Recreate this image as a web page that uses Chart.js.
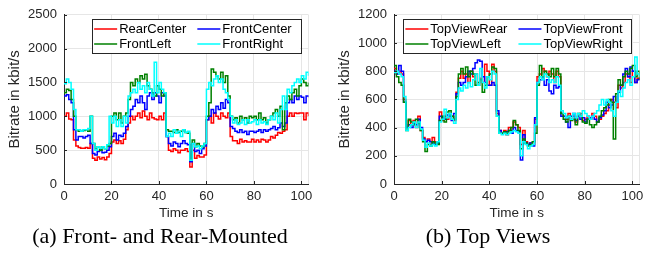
<!DOCTYPE html>
<html>
<head>
<meta charset="utf-8">
<script src="https://cdn.jsdelivr.net/npm/chart.js@4.4.1/dist/chart.umd.min.js"></script>
<style>
  body { margin: 0; background: #fff; width: 651px; height: 254px; position: relative; overflow: hidden; }
  .panel { position: absolute; top: 0; height: 225px; }
  .cap { position: absolute; top: 223px; font-family: "Liberation Serif", "Times New Roman", serif; font-size: 22px; color: #000; text-align: center; white-space: nowrap; }
</style>
</head>
<body>
<div class="panel" style="left:0;width:320px"><canvas id="chartA"></canvas></div>
<div class="panel" style="left:330px;width:321px"><canvas id="chartB"></canvas></div>
<div class="cap" style="left:0;width:320px">(a) Front- and Rear-Mounted</div>
<div class="cap" style="left:330px;width:316px">(b) Top Views</div>

<script>
// one sample per second, 0 .. 103 s
const seconds = Array.from({ length: 104 }, (_, i) => i);
const xTicks = [0, 20, 40, 60, 80, 100];

const rearCenter = [
  1000, 1050, 960, 950, 650, 560, 540, 530, 530, 540, 530, 600, 380, 350, 400, 370, 390, 360, 400, 450,
  620, 650, 600, 640, 600, 660, 800, 900, 1000, 950, 1000, 1050, 980, 1080, 1000, 950, 1050, 980, 960, 950,
  1000, 950, 1050, 700, 500, 480, 520, 500, 460, 500, 500, 520, 480, 250, 500, 380, 420, 400, 400, 430,
  950, 1000, 900, 1050, 1000, 960, 1050, 1000, 980, 1050, 700, 640, 640, 600, 660, 620, 640, 620, 620, 660,
  620, 650, 620, 660, 650, 620, 650, 700, 680, 720, 760, 750, 780, 800, 1000, 1050, 1000, 1050, 1040, 1050,
  1050, 950, 1050, 1000
];
const frontCenter = [
  1300, 1320, 1250, 1200, 800, 650, 700, 700, 680, 700, 720, 600, 450, 430, 480, 500, 460, 470, 500, 550,
  700, 750, 650, 720, 700, 750, 850, 1000, 1100, 1150, 1250, 1200, 1300, 1200, 1100, 1300, 1350, 1250, 1350, 1300,
  1200, 1350, 1300, 700, 600, 560, 620, 600, 550, 600, 640, 600, 580, 330, 600, 480, 500, 450, 520, 560,
  950, 1000, 1100, 1050, 1150, 1100, 1200, 1120, 1250, 1200, 850, 820, 780, 760, 800, 760, 780, 730, 780, 780,
  760, 780, 800, 760, 800, 780, 800, 820, 850, 800, 830, 900, 850, 900, 1200, 1250, 1200, 1300, 1250, 1300,
  1280, 1200, 1300, 1280
];
const frontLeft = [
  1350, 1400, 1380, 1250, 1000, 800, 780, 780, 790, 800, 780, 1000, 600, 520, 550, 500, 550, 520, 560, 600,
  1000, 1050, 950, 1050, 900, 1000, 1050, 1250, 1500, 1450, 1550, 1500, 1600, 1550, 1620, 1450, 1400, 1350, 1300, 1450,
  1400, 1300, 1350, 800, 780, 780, 760, 800, 760, 780, 800, 760, 750, 350, 650, 550, 600, 560, 550, 600,
  1000, 1200, 1700, 1650, 1600, 1550, 1650, 1500, 1600, 1300, 1000, 950, 980, 900, 1000, 950, 980, 900, 1000, 980,
  1000, 950, 1050, 950, 980, 900, 950, 1000, 1050, 1100, 1000, 1150, 800, 1200, 1300, 1250, 1350, 1400, 1300, 1450,
  1550, 1500, 1450, 1500
];
const frontRight = [
  1480, 1550, 1500, 1400, 1100, 800, 800, 780, 800, 800, 820, 1000, 600, 500, 550, 530, 550, 520, 580, 1000,
  900, 1000, 850, 950, 850, 1000, 900, 1300, 1350, 1400, 1350, 1500, 1400, 1450, 1350, 1500, 1400, 1300, 1800, 1350,
  1500, 1400, 1350, 700, 750, 700, 800, 750, 780, 700, 800, 760, 780, 350, 600, 550, 560, 520, 560, 600,
  1400, 1500, 1450, 1550, 1600, 1500, 1550, 1400, 1350, 1250, 1000, 900, 950, 880, 900, 950, 880, 950, 900, 920,
  950, 880, 950, 900, 920, 880, 950, 1000, 950, 1050, 900, 1100, 1300, 1100, 1400, 1350, 1450, 1500, 1550, 1500,
  1600, 1550, 1650, 1600
];

const topViewRear = [
  820, 780, 800, 780, 600, 400, 450, 420, 450, 400, 480, 380, 330, 300, 320, 280, 330, 300, 300, 510,
  450, 480, 460, 500, 480, 450, 650, 750, 800, 750, 780, 720, 800, 760, 780, 700, 750, 720, 850, 800,
  700, 850, 800, 500, 380, 360, 380, 350, 400, 380, 440, 420, 400, 280, 380, 300, 280, 290, 280, 460,
  760, 780, 820, 800, 760, 800, 780, 720, 800, 760, 500, 480, 460, 500, 460, 480, 440, 480, 500, 450,
  460, 480, 460, 500, 480, 440, 460, 480, 500, 520, 560, 600, 580, 540, 700, 680, 720, 780, 760, 720,
  800, 720, 750, 740
];
const topViewFront = [
  800, 780, 840, 800, 580, 400, 420, 400, 430, 420, 460, 400, 320, 300, 310, 300, 290, 280, 290, 480,
  470, 460, 490, 480, 450, 500, 640, 720, 700, 720, 760, 800, 780, 820, 860, 880, 870, 760, 720, 700,
  700, 720, 700, 520, 380, 360, 360, 370, 380, 360, 400, 380, 370, 170, 350, 290, 280, 290, 270, 470,
  720, 740, 760, 700, 740, 660, 640, 700, 680, 690, 480, 480, 440, 400, 480, 500, 450, 480, 460, 470,
  440, 460, 470, 480, 460, 440, 470, 490, 520, 580, 540, 560, 620, 580, 650, 700, 780, 820, 760, 830,
  800, 720, 740, 750
];
const topViewLeft = [
  840, 760, 720, 700, 580, 380, 460, 440, 420, 460, 430, 380, 300, 230, 280, 270, 300, 290, 280, 450,
  480, 440, 510, 520, 480, 460, 620, 780, 820, 780, 830, 760, 800, 780, 700, 720, 740, 650, 700, 760,
  780, 830, 820, 480, 360, 360, 370, 360, 380, 400, 450, 420, 380, 250, 320, 290, 270, 280, 300, 360,
  700, 840, 760, 800, 780, 760, 820, 760, 820, 780, 500, 460, 440, 480, 450, 460, 420, 500, 480, 440,
  430, 460, 420, 400, 420, 440, 480, 520, 540, 560, 600, 580, 320, 640, 740, 700, 760, 800, 780, 820,
  840, 760, 800, 740
];
const topViewRight = [
  790, 800, 780, 760, 620, 380, 400, 420, 440, 400, 440, 390, 310, 260, 290, 270, 280, 270, 300, 440,
  460, 530, 470, 500, 460, 430, 600, 680, 660, 700, 680, 720, 690, 740, 780, 700, 820, 720, 680, 760,
  740, 800, 780, 480, 360, 350, 360, 350, 360, 370, 380, 370, 360, 200, 300, 280, 250, 270, 280, 420,
  720, 760, 740, 780, 760, 720, 740, 720, 760, 700, 520, 500, 470, 480, 460, 500, 470, 500, 480, 520,
  500, 480, 460, 480, 500, 520, 560, 600, 560, 600, 580, 520, 480, 580, 660, 620, 680, 720, 740, 700,
  760, 900, 780, 760
];

const colors = ['#ff0000', '#0000ff', '#008000', '#00ffff'];
const FONT = '"Liberation Sans", Arial, sans-serif';
const INK = '#262626';

// small inward tick marks like matlab
const inTicks = {
  id: 'inTicks',
  afterDatasetsDraw(chart) {
    const { ctx, chartArea: a, scales: { x, y } } = chart;
    ctx.save();
    ctx.strokeStyle = INK;
    ctx.lineWidth = 1;
    ctx.beginPath();
    xTicks.forEach(v => {
      const px = Math.round(x.getPixelForValue(v)) + 0.5;
      ctx.moveTo(px, a.bottom);
      ctx.lineTo(px, a.bottom - 3);
    });
    y.ticks.forEach(t => {
      const py = Math.round(y.getPixelForValue(t.value)) + 0.5;
      ctx.moveTo(a.left, py);
      ctx.lineTo(a.left + 3, py);
    });
    ctx.stroke();
    ctx.restore();
  }
};

// boxed 2x2 legend in the top right corner of the plot
const boxLegend = {
  id: 'boxLegend',
  afterDraw(chart) {
    const { ctx, chartArea: a } = chart;
    const sets = chart.data.datasets;
    ctx.save();
    ctx.font = '13px ' + FONT;
    const w = sets.map(d => ctx.measureText(d.label).width);
    const col1 = Math.max(w[0], w[2]), col2 = Math.max(w[1], w[3]);
    const lineLen = 23;
    const boxW = 2.5 + lineLen + 2 + col1 + 11 + lineLen + 2 + col2 + 8.5;
    const boxH = 34;
    const right = a.right - 8.3;
    const left = right - boxW;
    const top = 19;
    ctx.fillStyle = '#fff';
    ctx.fillRect(left, top, boxW, boxH);
    ctx.strokeStyle = INK;
    ctx.lineWidth = 1;
    ctx.strokeRect(Math.round(left) + 0.5, top + 0.5, Math.round(boxW), boxH);
    const colX = [left + 2.5, left + 2.5 + lineLen + 2 + col1 + 11];
    const rowY = [top + 10, top + 25];
    ctx.textBaseline = 'middle';
    sets.forEach((d, i) => {
      const cx = colX[i % 2], cy = rowY[Math.floor(i / 2)];
      ctx.strokeStyle = d.borderColor;
      ctx.lineWidth = 1.5;
      ctx.beginPath();
      ctx.moveTo(cx, cy);
      ctx.lineTo(cx + lineLen, cy);
      ctx.stroke();
      ctx.fillStyle = '#000';
      ctx.fillText(d.label, cx + lineLen + 2, cy + 0.5);
    });
    ctx.restore();
  }
};

function makeChart(id, names, series, yMax, yStep) {
  return new Chart(document.getElementById(id), {
    type: 'line',
    data: {
      datasets: series.map((s, i) => ({
        label: names[i],
        data: s.map((v, k) => ({ x: seconds[k], y: v })),
        borderColor: colors[i],
        backgroundColor: colors[i],
        borderWidth: 1.5,
        stepped: true,
        pointRadius: 0,
        order: series.length - i
      }))
    },
    options: {
      responsive: true,
      maintainAspectRatio: false,
      animation: false,
      events: [],
      layout: { padding: { top: 13, right: 11.5, left: 0, bottom: 0 } },
      plugins: { legend: { display: false }, tooltip: { enabled: false } },
      scales: {
        x: {
          type: 'linear',
          min: 0,
          max: 103,
          afterBuildTicks: s => { s.ticks = xTicks.concat([103]).map(v => ({ value: v })); },
          afterFit: s => { s.height = 41; },
          grid: { color: '#e6e6e6', drawTicks: false },
          border: { display: true, color: INK, width: 1 },
          ticks: {
            padding: 5,
            color: INK,
            autoSkip: false,
            font: { family: FONT, size: 13 },
            maxRotation: 0,
            callback: v => (xTicks.includes(v) ? String(v) : '')
          },
          title: {
            display: true,
            text: 'Time in s',
            color: INK,
            font: { family: FONT, size: 13.5 },
            padding: { top: 0, bottom: 4 }
          }
        },
        y: {
          min: 0,
          max: yMax,
          afterFit: s => { s.width = 64; },
          grid: { color: '#e6e6e6', drawTicks: false },
          border: { display: true, color: INK, width: 1 },
          ticks: {
            stepSize: yStep,
            padding: 7,
            color: INK,
            font: { family: FONT, size: 13 },
            callback: v => String(v)
          },
          title: {
            display: true,
            text: 'Bitrate in kbit/s',
            color: INK,
            font: { family: FONT, size: 15 },
            padding: { top: 6, bottom: 0 }
          }
        }
      }
    },
    plugins: [inTicks, boxLegend]
  });
}

makeChart('chartA', ['RearCenter', 'FrontCenter', 'FrontLeft', 'FrontRight'],
  [rearCenter, frontCenter, frontLeft, frontRight], 2500, 500);
makeChart('chartB', ['TopViewRear', 'TopViewFront', 'TopViewLeft', 'TopViewRight'],
  [topViewRear, topViewFront, topViewLeft, topViewRight], 1200, 200);
</script>
</body>
</html>
